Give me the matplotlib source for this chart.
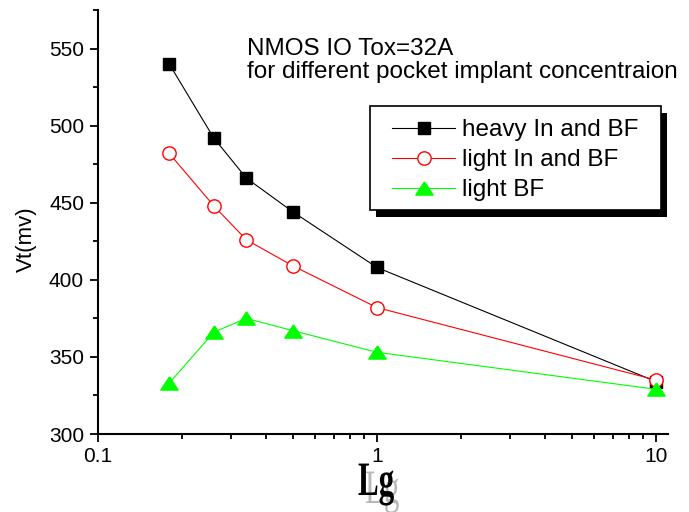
import numpy as np
import matplotlib
matplotlib.use("Agg")
import matplotlib.pyplot as plt
from matplotlib.ticker import LogLocator, FixedLocator, NullFormatter
from matplotlib.textpath import TextPath
from matplotlib.patches import PathPatch, Rectangle
from matplotlib.transforms import Affine2D
from matplotlib.font_manager import FontProperties

plt.rcParams['font.family'] = ['Liberation Sans', 'DejaVu Sans']

# gate length (um) and threshold voltage (mV)
lg = [0.18, 0.26, 0.34, 0.5, 1, 10]
vt_heavy = [540, 492, 466, 444, 408, 334]
vt_light = [482, 448, 426, 409, 382, 335]
vt_light_bf = [333, 366, 375, 367, 353, 329]
labels = ["heavy In and BF", "light In and BF", "light BF"]

W, H = 689, 512
fig = plt.figure(figsize=(W / 100, H / 100), dpi=100)
ax = fig.add_axes([98 / W, 1 - 434 / H, 570 / W, 424 / H])

# wide, flat triangle marker
tri = [(0, 0.76), (-1, -0.76), (1, -0.76), (0, 0.76)]

ax.plot(lg, vt_heavy, color='black', lw=0.8, marker='s', ms=9,
        mfc='black', mec='black', label=labels[0])
ax.plot(lg, vt_light, color='red', lw=0.8, marker='o', ms=9.6,
        mfc='white', mec='red', mew=1.0, label=labels[1])
ax.plot(lg, vt_light_bf, color='#00ff00', lw=0.8, marker=tri, ms=12.5,
        mfc='#00ff00', mec='#00ff00', label=labels[2])

ax.set_xscale('log')
ax.set_xlim(0.1, 11.04)
ax.set_ylim(300, 575)
ax.set_xticks([0.1, 1, 10])
ax.set_xticklabels(['0.1', '1', '10'])
ax.xaxis.set_minor_locator(LogLocator(base=10, subs=np.arange(2, 10)))
ax.xaxis.set_minor_formatter(NullFormatter())
ax.set_yticks([300, 350, 400, 450, 500, 550])
ax.yaxis.set_minor_locator(FixedLocator([325, 375, 425, 475, 525, 575]))

for side in ['top', 'right']:
    ax.spines[side].set_visible(False)
for side in ['left', 'bottom']:
    ax.spines[side].set_linewidth(1.5)
ax.tick_params(which='major', direction='out', length=6, width=1.3, labelsize=15)
ax.tick_params(which='minor', direction='out', length=3.6, width=1.3)
ax.tick_params(axis='x', pad=3)
ax.tick_params(axis='y', pad=4)

fig.text(26 / W, 1 - 239 / H, 'Vt(mv)', rotation=90, ha='center', va='center', fontsize=16)

fig.text(247 / W, 1 - 55 / H, 'NMOS IO Tox=32A', fontsize=17.5, va='baseline')
fig.text(247 / W, 1 - 78 / H, 'for different pocket implant concentraion',
         fontsize=17.5, va='baseline')

# legend entries without a frame; the box and its shadow are drawn separately
leg = ax.legend(loc='upper left', bbox_to_anchor=(392 / W, 1 - 119 / H),
                bbox_transform=fig.transFigure, fontsize=17.5, numpoints=1,
                handlelength=2.6, handletextpad=0.29, borderpad=0,
                labelspacing=0.33, borderaxespad=0, frameon=False)
leg.set_zorder(6)

box_x0, box_y0, box_x1, box_y1 = 370, 106, 661, 210
shadow = Rectangle(((box_x0 + 6) / W, 1 - (box_y1 + 7) / H), (box_x1 - box_x0) / W,
                   (box_y1 - box_y0) / H, transform=fig.transFigure,
                   facecolor='black', edgecolor='none', zorder=4)
frame = Rectangle((box_x0 / W, 1 - box_y1 / H), (box_x1 - box_x0) / W,
                  (box_y1 - box_y0) / H, transform=fig.transFigure,
                  facecolor='white', edgecolor='black', lw=1.2, zorder=5)
ax.add_artist(shadow)
ax.add_artist(frame)


def stretched_text(s, x_px, base_px, sx, sy, color, weight, z):
    path = TextPath((0, 0), s, size=1,
                    prop=FontProperties(family='Liberation Serif', weight=weight))
    tr = Affine2D().scale(sx / W, sy / H).translate(x_px / W, 1 - base_px / H) + fig.transFigure
    fig.add_artist(PathPatch(path, transform=tr, facecolor=color, edgecolor='none', zorder=z))


# x axis title with its grey offset copy
stretched_text('Lg', 365, 503, 31, 48, '#b8b8b8', 'normal', 2)
stretched_text('Lg', 358, 495, 31, 48, 'black', 'bold', 3)

fig.savefig('out.png', dpi=100)
